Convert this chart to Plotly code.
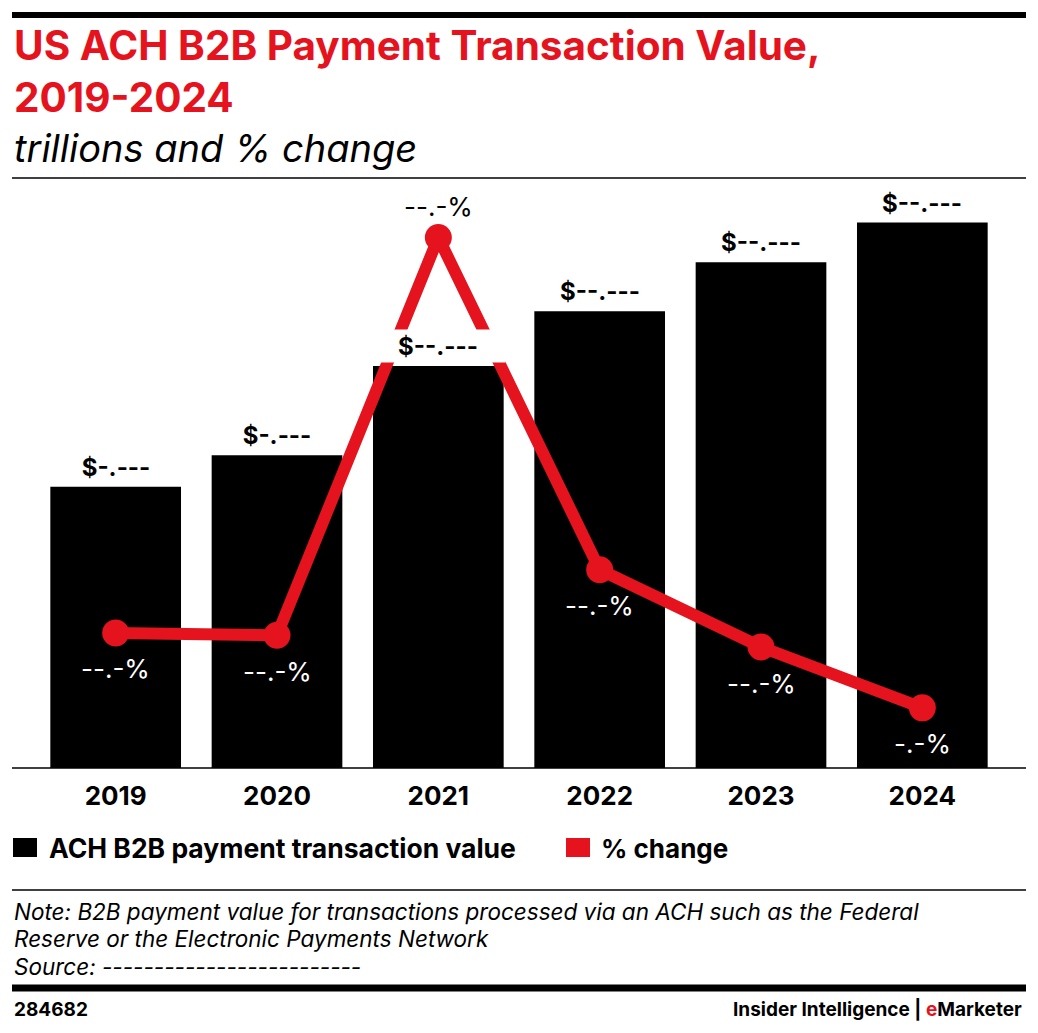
import plotly.graph_objects as go

# ── data ────────────────────────────────────────────────────────────────
years = [2019, 2020, 2021, 2022, 2023, 2024]
value_trillions = [7.81, 8.69, 11.17, 12.69, 14.05, 15.15]
pct_change = [11.5, 11.4, 28.4, 14.2, 10.9, 8.3]
value_labels = ["$-.---", "$-.---", "$--.---", "$--.---", "$--.---", "$--.---"]
pct_labels = ["--.-%", "--.-%", "--.-%", "--.-%", "--.-%", "-.-%"]

RED = "#e5131d"
FONT = "Inter"

# ── page geometry (reference pixels; the page body adds an 8px margin) ──
OFF = 8
W, H = 1038 - OFF, 1033 - OFF
ML, MR = 35 - OFF, 35
MT, MB = 185 - OFF, H - (768 - OFF)
PW, PH = W - ML - MR, H - MT - MB


def px(x):
    return (x - OFF - ML) / PW


def py(y):
    return (H - MB - (y - OFF)) / PH


fig = go.Figure()

fig.add_trace(go.Bar(
    x=years, y=value_trillions,
    name="ACH B2B payment transaction value",
    marker=dict(color="black", line=dict(width=0)),
    hoverinfo="skip",
))

fig.add_trace(go.Scatter(
    x=years, y=pct_change, yaxis="y2",
    name="% change",
    mode="lines+markers",
    line=dict(color=RED, width=12),
    marker=dict(color=RED, size=27),
    cliponaxis=False,
    hoverinfo="skip",
))

annotations = []

# value labels above bars (white box hides the line behind them)
for yr, v, lab in zip(years, value_trillions, value_labels):
    annotations.append(dict(
        x=yr, y=v, xref="x", yref="y", text=f"<b>{lab}</b>",
        showarrow=False, yanchor="bottom", yshift=3,
        width=132, height=30, bgcolor="white",
        font=dict(family=FONT, size=24, color="black"),
    ))

# % change labels
for yr, p, lab in zip(years, pct_change, pct_labels):
    above = p == max(pct_change)
    annotations.append(dict(
        x=yr, y=p, xref="x", yref="y2", text=lab,
        showarrow=False, yanchor="middle",
        yshift=31 if above else -36,
        font=dict(family=FONT, size=26, color="black" if above else "white"),
    ))

# header
annotations += [
    dict(x=px(12), y=py(45), xref="paper", yref="paper", xanchor="left", yanchor="middle",
         text="<b>US ACH B2B Payment Transaction Value,</b>", showarrow=False,
         font=dict(family=FONT, size=40.5, color=RED)),
    dict(x=px(12), y=py(97), xref="paper", yref="paper", xanchor="left", yanchor="middle",
         text="<b>2019-2024</b>", showarrow=False,
         font=dict(family=FONT, size=40.5, color=RED)),
    dict(x=px(12), y=py(148), xref="paper", yref="paper", xanchor="left", yanchor="middle",
         text="<i>trillions and % change</i>", showarrow=False,
         font=dict(family=FONT, size=38, color="black")),
]

# legend
annotations += [
    dict(x=px(47), y=py(848), xref="paper", yref="paper", xanchor="left", yanchor="middle",
         text="<b>ACH B2B payment transaction value</b>", showarrow=False,
         font=dict(family=FONT, size=26.5, color="black")),
    dict(x=px(599), y=py(848), xref="paper", yref="paper", xanchor="left", yanchor="middle",
         text="<b>% change</b>", showarrow=False,
         font=dict(family=FONT, size=26, color="black")),
]

# notes
notes = [
    "Note: B2B payment value for transactions processed via an ACH such as the Federal",
    "Reserve or the Electronic Payments Network",
    "Source: -------------------------",
]
for k, line in enumerate(notes):
    annotations.append(dict(
        x=px(12), y=py(911 + 27.5 * k), xref="paper", yref="paper",
        xanchor="left", yanchor="middle", text=f"<i>{line}</i>", showarrow=False,
        font=dict(family=FONT, size=22.5, color="black"),
    ))

# footer
annotations += [
    dict(x=px(12), y=py(1009), xref="paper", yref="paper", xanchor="left", yanchor="middle",
         text="<b>284682</b>", showarrow=False,
         font=dict(family=FONT, size=19, color="black")),
    dict(x=px(1024), y=py(1009), xref="paper", yref="paper", xanchor="right", yanchor="middle",
         text=f"<b>Insider Intelligence | <span style='color:{RED}'>e</span>Marketer</b>",
         showarrow=False, font=dict(family=FONT, size=19, color="black")),
]


def hline(y, width, x0=12, x1=1026):
    return dict(type="line", xref="paper", yref="paper",
                x0=px(x0), x1=px(x1), y0=py(y), y1=py(y),
                line=dict(color="black", width=width))


shapes = [
    hline(15, 6),
    hline(178, 1.5),
    hline(768, 1.5),
    hline(890, 1.5),
    hline(988, 7),
    dict(type="rect", xref="paper", yref="paper", x0=px(13), x1=px(37),
         y0=py(857), y1=py(838), fillcolor="black", line=dict(width=0)),
    dict(type="rect", xref="paper", yref="paper", x0=px(566), x1=px(590),
         y0=py(857), y1=py(838), fillcolor=RED, line=dict(width=0)),
]

fig.update_layout(
    width=W, height=H,
    margin=dict(l=ML, r=MR, t=MT, b=MB),
    paper_bgcolor="white", plot_bgcolor="white",
    showlegend=False,
    bargap=0.19,
    xaxis=dict(range=[2018.5, 2024.5], showgrid=False, zeroline=False, showline=False,
               tickmode="array", tickvals=years,
               ticktext=[f"<b>{y}</b>" for y in years],
               ticks="outside", ticklen=5, tickcolor="rgba(0,0,0,0)",
               tickfont=dict(family=FONT, size=26, color="black")),
    yaxis=dict(range=[0, 583 / 36], visible=False),
    yaxis2=dict(range=[5.73, 30.64], overlaying="y", visible=False),
    annotations=annotations,
    shapes=shapes,
)

fig.write_html("out.html")
